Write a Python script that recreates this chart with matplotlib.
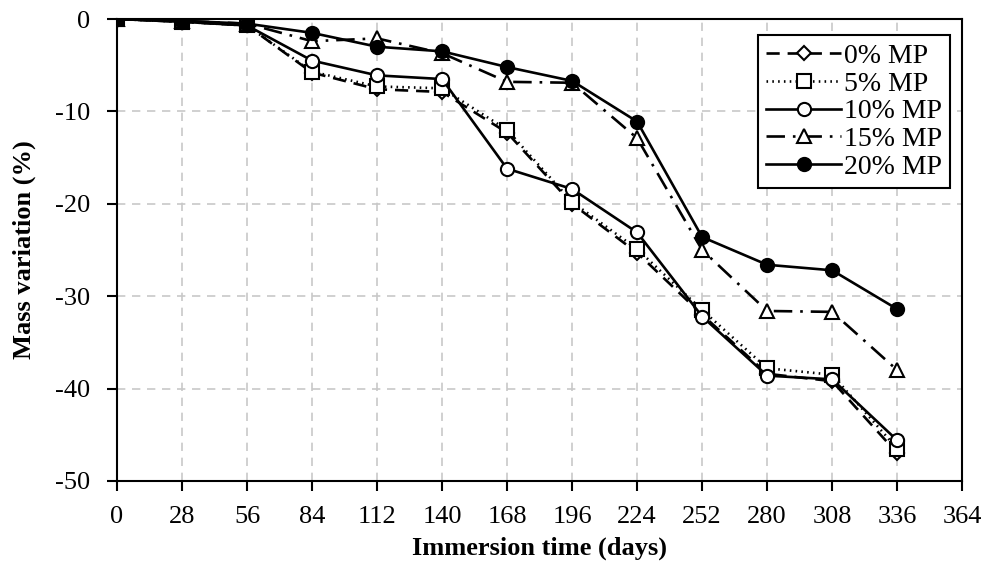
import matplotlib
matplotlib.use('Agg')
import matplotlib.pyplot as plt

plt.rcParams['font.family'] = ['Liberation Serif', 'DejaVu Serif']
plt.rcParams['axes.unicode_minus'] = False

# Data
days = [0, 28, 56, 84, 112, 140, 168, 196, 224, 252, 280, 308, 336]
mp0 = [0, -0.3, -0.7, -5.8, -7.6, -7.9, -12.3, -20.0, -25.3, -32.0, -38.4, -39.2, -47.0]
mp5 = [0, -0.3, -0.7, -5.7, -7.3, -7.5, -12.0, -19.8, -24.9, -31.5, -37.8, -38.5, -46.5]
mp10 = [0, -0.3, -0.7, -4.5, -6.1, -6.5, -16.2, -18.4, -23.1, -32.2, -38.6, -39.0, -45.6]
mp15 = [0, -0.2, -0.5, -2.4, -2.1, -3.7, -6.8, -6.9, -12.9, -25.0, -31.6, -31.7, -38.0]
mp20 = [0, -0.2, -0.5, -1.5, -3.0, -3.5, -5.2, -6.7, -11.1, -23.6, -26.6, -27.2, -31.4]
labels = ['0% MP', '5% MP', '10% MP', '15% MP', '20% MP']

fig = plt.figure(figsize=(9.88, 5.76), dpi=100)
ax = fig.add_axes([0.1184, 0.165, 0.8555, 0.802])

lw = 1.9
ms = 9.5
ax.plot(days, mp0, color='black', lw=lw, dashes=(5, 3), marker='D', ms=7,
        mfc='white', mec='black', mew=1.5, label=labels[0])
ax.plot(days, mp5, color='black', lw=lw, dashes=(0.6, 1.6), marker='s', ms=ms,
        mfc='white', mec='black', mew=1.5, label=labels[1])
ax.plot(days, mp10, color='black', lw=lw, ls='-', marker='o', ms=ms,
        mfc='white', mec='black', mew=1.5, label=labels[2])
ax.plot(days, mp15, color='black', lw=lw, dashes=(7, 3, 1, 3), marker='^', ms=ms,
        mfc='white', mec='black', mew=1.5, label=labels[3])
ax.plot(days, mp20, color='black', lw=lw, ls='-', marker='o', ms=ms,
        mfc='black', mec='black', mew=1.5, label=labels[4])

ax.set_xlim(0, 364)
ax.set_ylim(-50, 0)
ax.set_xticks(range(0, 365, 28))
ax.set_yticks(range(-50, 1, 10))
ax.grid(True, color='#c8c8c8', ls=(0, (5, 4)), lw=1.2)
ax.set_axisbelow(True)

for s in ax.spines.values():
    s.set_linewidth(1.5)
    s.set_color('black')
ax.tick_params(direction='out', length=7, width=1.5, labelsize=19)
ax.tick_params(axis='x', pad=11)
ax.tick_params(axis='y', pad=12)

ax.set_xlabel('Immersion time (days)', fontsize=19, fontweight='bold', labelpad=6)
ax.set_ylabel('Mass variation (%)', fontsize=19, fontweight='bold', labelpad=14)

leg = ax.legend(loc='upper right', bbox_to_anchor=(0.986, 0.965), fontsize=20,
                frameon=True, fancybox=False, edgecolor='black', framealpha=1,
                handlelength=2.7, handletextpad=0.1, labelspacing=0.08,
                borderpad=0.3, borderaxespad=0)
leg.get_frame().set_linewidth(1.5)

plt.savefig('out.png', dpi=100)
